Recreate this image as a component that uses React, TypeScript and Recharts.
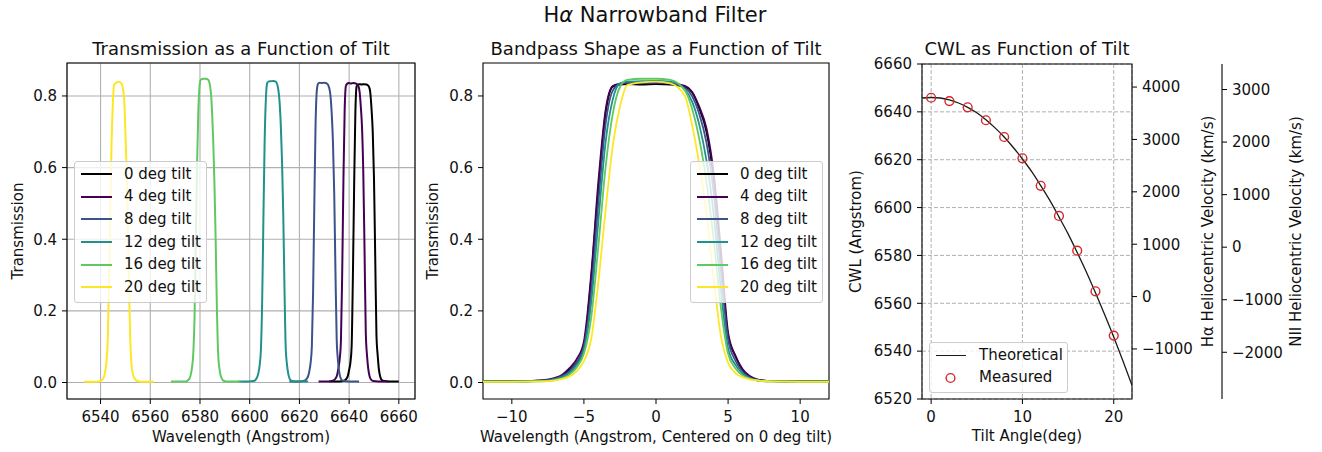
import React from 'react';
import {
  LineChart, ComposedChart, Line, XAxis, YAxis, CartesianGrid, ReferenceArea,
} from 'recharts';

const FONT = '"DejaVu Sans", Verdana, sans-serif';
const INK = '#111111';
const GRID = '#b0b0b0';
const RED = '#d62728';

// tilts shown in the legends, plotted in this order
const TILTS = [0, 4, 8, 12, 16, 20];
const TILT_COLORS = ['#000000', '#440154', '#3b528b', '#21918c', '#5ec962', '#fde725'];

// centre wavelength of each curve in the left panel (Angstrom)
const PANEL1_CENTERS = [6646.0, 6641.7, 6630.0, 6609.5, 6582.3, 6547.4];

// offsets from each curve's centre (Angstrom)
const OFFSETS = [-14, -12, -10, -8, -7, -6.5, -6, -5.5, -5, -4.5, -4, -3.5, -3, -2.5, -2, -1, 0,
  1, 2, 2.5, 3, 3.5, 4, 4.5, 5, 5.5, 6, 6.5, 7, 8, 10, 12, 14];

// transmission at each offset, per tilt
const T_0 = [0.003, 0.003, 0.003, 0.005, 0.011, 0.019, 0.035, 0.055, 0.1, 0.29, 0.54, 0.75, 0.826, 0.832, 0.833, 0.832, 0.833,
  0.832, 0.826, 0.81, 0.765, 0.7, 0.57, 0.35, 0.13, 0.075, 0.035, 0.017, 0.008, 0.004, 0.003, 0.003, 0.003];
const T_4 = [0.003, 0.003, 0.003, 0.006, 0.013, 0.022, 0.04, 0.065, 0.115, 0.3, 0.56, 0.76, 0.828, 0.834, 0.836, 0.835, 0.836,
  0.835, 0.828, 0.812, 0.77, 0.71, 0.585, 0.37, 0.14, 0.075, 0.038, 0.018, 0.009, 0.004, 0.003, 0.003, 0.003];
const T_8 = [0.003, 0.003, 0.003, 0.005, 0.011, 0.018, 0.032, 0.055, 0.1, 0.25, 0.5, 0.72, 0.815, 0.834, 0.837, 0.836, 0.837,
  0.835, 0.822, 0.8, 0.75, 0.67, 0.53, 0.31, 0.12, 0.062, 0.03, 0.014, 0.007, 0.004, 0.003, 0.003, 0.003];
const T_12 = [0.003, 0.003, 0.003, 0.004, 0.009, 0.015, 0.027, 0.048, 0.09, 0.22, 0.45, 0.67, 0.79, 0.835, 0.84, 0.841, 0.842,
  0.84, 0.818, 0.785, 0.72, 0.62, 0.47, 0.26, 0.095, 0.05, 0.025, 0.012, 0.006, 0.003, 0.003, 0.003, 0.003];
const T_16 = [0.003, 0.003, 0.003, 0.003, 0.007, 0.012, 0.022, 0.042, 0.08, 0.18, 0.38, 0.6, 0.75, 0.825, 0.845, 0.848, 0.848,
  0.845, 0.815, 0.765, 0.68, 0.56, 0.4, 0.21, 0.08, 0.04, 0.02, 0.011, 0.006, 0.003, 0.003, 0.003, 0.003];
const T_20 = [0.002, 0.002, 0.002, 0.003, 0.006, 0.01, 0.017, 0.032, 0.06, 0.12, 0.28, 0.48, 0.66, 0.77, 0.83, 0.838, 0.84,
  0.835, 0.8, 0.72, 0.61, 0.47, 0.29, 0.13, 0.055, 0.027, 0.015, 0.009, 0.006, 0.003, 0.002, 0.002, 0.002];
const SHAPES = [T_0, T_4, T_8, T_12, T_16, T_20];

// right panel
const MEASURED_TILT = [0, 2, 4, 6, 8, 10, 12, 14, 16, 18, 20];
const MEASURED_CWL = [6645.9, 6644.5, 6641.9, 6636.5, 6629.5, 6620.6, 6609.1, 6596.5, 6582.0, 6565.0, 6546.5];
const THEORY_TILT = [-1, 0, 1, 2, 3, 4, 5, 6, 7, 8, 9, 10, 11, 12, 13, 14, 15, 16, 17, 18, 19, 20, 21, 22];
const THEORY_CWL = [6645.8, 6646.0, 6645.8, 6645.0, 6643.7, 6641.9, 6639.6, 6636.7, 6633.3, 6629.5, 6625.1, 6620.3,
  6615.1, 6609.2, 6603.0, 6596.1, 6589.0, 6581.2, 6573.1, 6564.4, 6555.3, 6545.9, 6536.0, 6525.7];

// axes
const P1_X_DOMAIN = [6526.5, 6666.5];
const P1_X_TICKS = [6540, 6560, 6580, 6600, 6620, 6640, 6660];
const T_DOMAIN = [-0.046, 0.892];
const T_TICKS = [0, 0.2, 0.4, 0.6, 0.8];
const P2_X_DOMAIN = [-12, 12];
const P2_X_TICKS = [-10, -5, 0, 5, 10];
const P3_X_DOMAIN = [-1, 22];
const P3_X_TICKS = [0, 10, 20];
const CWL_DOMAIN = [6520, 6660];
const CWL_TICKS = [6520, 6540, 6560, 6580, 6600, 6620, 6640, 6660];
const HA_TICKS = [-1000, 0, 1000, 2000, 3000, 4000];
const NII_TICKS = [-2000, -1000, 0, 1000, 2000, 3000];

const C_KMS = 299792.458;
const HA_REST = 6562.8;
const NII_REST = 6583.45;
const HA_DOMAIN = CWL_DOMAIN.map((l) => (l / HA_REST - 1) * C_KMS);
const NII_DOMAIN = CWL_DOMAIN.map((l) => (l / NII_REST - 1) * C_KMS);

const panel1Series = TILTS.map((_, i) =>
  OFFSETS.map((o, j) => ({ x: PANEL1_CENTERS[i] + o, y: SHAPES[i][j] })));
const panel2Series = TILTS.map((_, i) => OFFSETS.map((o, j) => ({ x: o, y: SHAPES[i][j] })));
const theoryData = THEORY_TILT.map((t, i) => ({ x: t, y: THEORY_CWL[i] }));
const measuredData = MEASURED_TILT.map((t, i) => ({ x: t, y: MEASURED_CWL[i] }));

const minus = (v: number | string) => String(v).replace('-', '\u2212');
const tickStyle = { fontSize: 15, fill: INK, fontFamily: FONT };

// axis titles at fixed chart coordinates
const hLabel = (text: string, x: number, y: number) => ({
  content: () => (
    <text x={x} y={y} textAnchor="middle" fontSize={15} fill={INK} fontFamily={FONT}>{text}</text>
  ),
});
const vLabel = (text: string, x: number, y: number) => ({
  content: () => (
    <text x={x} y={y} transform={`rotate(-90 ${x} ${y})`} textAnchor="middle" fontSize={15} fill={INK} fontFamily={FONT}>
      {text}
    </text>
  ),
});

const LegendBox: React.FC<{ left: number; top: number; width: number; children: React.ReactNode }> = ({ left, top, width, children }) => (
  <div style={{
    position: 'absolute', left, top, width, boxSizing: 'border-box', padding: '1px 0 3px 0',
    background: 'rgba(255,255,255,0.8)', border: '1px solid #cccccc', borderRadius: 3,
    fontSize: 15, color: INK, fontFamily: FONT,
  }}>{children}</div>
);

const TiltLegend: React.FC<{ left: number; top: number }> = ({ left, top }) => (
  <LegendBox left={left} top={top} width={133}>
    {TILTS.map((t, i) => (
      <div key={t} style={{ height: 22.6, display: 'flex', alignItems: 'center' }}>
        <div style={{ marginLeft: 6, width: 31, height: 2, background: TILT_COLORS[i] }} />
        <span style={{ marginLeft: 12, lineHeight: '15px' }}>{`${t} deg tilt`}</span>
      </div>
    ))}
  </LegendBox>
);

export default function App() {
  return (
    <div style={{ position: 'absolute', left: 0, top: 0, width: 1322, height: 452, background: '#fff', fontFamily: FONT }}>
      {/* left: transmission vs wavelength */}
      <div style={{ position: 'absolute', left: 0, top: 0 }}>
        <LineChart width={440} height={452} margin={{ top: 63, right: 25, bottom: 0, left: 0 }}>
          <CartesianGrid stroke={GRID} strokeWidth={1.1} />
          <XAxis dataKey="x" type="number" domain={P1_X_DOMAIN} ticks={P1_X_TICKS} interval={0} allowDataOverflow
            height={53} axisLine={false} tickLine={{ stroke: '#000' }} tickSize={5} tickMargin={7} tick={tickStyle}
            label={hLabel('Wavelength (Angstrom)', 241, 442)} />
          <YAxis type="number" domain={T_DOMAIN} ticks={T_TICKS} interval={0} allowDataOverflow width={67}
            axisLine={false} tickLine={{ stroke: '#000' }} tickSize={5} tickMargin={5} tick={tickStyle}
            tickFormatter={(v: number) => v.toFixed(1)} label={vLabel('Transmission', 23, 231)} />
          {TILTS.map((t, i) => (
            <Line key={t} data={panel1Series[i]} dataKey="y" type="monotone" stroke={TILT_COLORS[i]}
              strokeWidth={2} dot={false} isAnimationActive={false} />
          ))}
          <ReferenceArea x1={P1_X_DOMAIN[0]} x2={P1_X_DOMAIN[1]} y1={T_DOMAIN[0]} y2={T_DOMAIN[1]}
            fill="none" stroke="#000" strokeWidth={1.1} ifOverflow="visible" />
        </LineChart>
      </div>

      {/* middle: centred bandpass shapes */}
      <div style={{ position: 'absolute', left: 400, top: 0 }}>
        <LineChart width={460} height={452} margin={{ top: 63, right: 31, bottom: 0, left: 0 }}>
          <XAxis dataKey="x" type="number" domain={P2_X_DOMAIN} ticks={P2_X_TICKS} interval={0} allowDataOverflow
            height={53} axisLine={false} tickLine={{ stroke: '#000' }} tickSize={5} tickMargin={7} tick={tickStyle}
            tickFormatter={minus} label={hLabel('Wavelength (Angstrom, Centered on 0 deg tilt)', 256, 442)} />
          <YAxis type="number" domain={T_DOMAIN} ticks={T_TICKS} interval={0} allowDataOverflow width={83}
            axisLine={false} tickLine={{ stroke: '#000' }} tickSize={5} tickMargin={5} tick={tickStyle}
            tickFormatter={(v: number) => v.toFixed(1)} label={vLabel('Transmission', 38, 231)} />
          {TILTS.map((t, i) => (
            <Line key={t} data={panel2Series[i]} dataKey="y" type="monotone" stroke={TILT_COLORS[i]}
              strokeWidth={1.8} dot={false} isAnimationActive={false} />
          ))}
          <ReferenceArea x1={P2_X_DOMAIN[0]} x2={P2_X_DOMAIN[1]} y1={T_DOMAIN[0]} y2={T_DOMAIN[1]}
            fill="none" stroke="#000" strokeWidth={1.1} ifOverflow="visible" />
        </LineChart>
      </div>

      {/* right: CWL vs tilt with velocity axes */}
      <div style={{ position: 'absolute', left: 840, top: 0 }}>
        <ComposedChart width={482} height={452} margin={{ top: 64, right: 0, bottom: 0, left: 0 }}>
          <CartesianGrid yAxisId="cwl" stroke={GRID} strokeWidth={1} strokeDasharray="4 2" />
          <XAxis dataKey="x" type="number" domain={P3_X_DOMAIN} ticks={P3_X_TICKS} interval={0} allowDataOverflow
            height={53} axisLine={false} tickLine={{ stroke: '#000' }} tickSize={5} tickMargin={7} tick={tickStyle}
            label={hLabel('Tilt Angle(deg)', 187, 441)} />
          <YAxis yAxisId="cwl" type="number" domain={CWL_DOMAIN} ticks={CWL_TICKS} interval={0} allowDataOverflow width={82}
            axisLine={false} tickLine={{ stroke: '#000' }} tickSize={5} tickMargin={5} tick={tickStyle}
            label={vLabel('CWL (Angstrom)', 21, 231.5)} />
          <YAxis yAxisId="ha" orientation="right" type="number" domain={HA_DOMAIN} ticks={HA_TICKS} interval={0}
            allowDataOverflow width={90} axisLine={false} tickLine={{ stroke: '#000' }} tickSize={5} tickMargin={5}
            tick={tickStyle} tickFormatter={minus}
            label={vLabel('H\u03b1 Heliocentric Velocity (km/s)', 372.5, 231.5)} />
          <YAxis yAxisId="nii" orientation="right" type="number" domain={NII_DOMAIN} ticks={NII_TICKS} interval={0}
            allowDataOverflow width={100} axisLine={{ stroke: '#000', strokeWidth: 1.1 }} tickLine={{ stroke: '#000' }}
            tickSize={5} tickMargin={5} tick={tickStyle} tickFormatter={minus}
            label={vLabel('NII Heliocentric Velocity (km/s)', 461, 231.5)} />
          <Line yAxisId="cwl" data={theoryData} dataKey="y" type="monotone" stroke="#1a1a1a" strokeWidth={1.3}
            dot={false} isAnimationActive={false} />
          <Line yAxisId="cwl" data={measuredData} dataKey="y" stroke="none"
            dot={{ r: 4.4, fill: 'none', stroke: RED, strokeWidth: 1.4 }} isAnimationActive={false} />
          <ReferenceArea yAxisId="cwl" x1={P3_X_DOMAIN[0]} x2={P3_X_DOMAIN[1]} y1={CWL_DOMAIN[0]} y2={CWL_DOMAIN[1]}
            fill="none" stroke="#000" strokeWidth={1.1} ifOverflow="visible" />
        </ComposedChart>
      </div>

      {/* titles */}
      <svg width={1322} height={452} style={{ position: 'absolute', left: 0, top: 0, pointerEvents: 'none' }}>
        <text x={655} y={21.5} textAnchor="middle" fontSize={21} fill={INK} fontFamily={FONT}>
          H<tspan fontStyle="italic">{'\u03b1'}</tspan> Narrowband Filter
        </text>
        <text x={241} y={54.5} textAnchor="middle" fontSize={18} fill={INK} fontFamily={FONT}>Transmission as a Function of Tilt</text>
        <text x={656} y={54.5} textAnchor="middle" fontSize={18} fill={INK} fontFamily={FONT}>Bandpass Shape as a Function of Tilt</text>
        <text x={1027} y={54.5} textAnchor="middle" fontSize={18} fill={INK} fontFamily={FONT}>CWL as Function of Tilt</text>
      </svg>

      {/* legends */}
      <TiltLegend left={74} top={161} />
      <TiltLegend left={690} top={161} />
      <LegendBox left={929} top={342} width={139}>
        <div style={{ height: 22.6, display: 'flex', alignItems: 'center' }}>
          <div style={{ marginLeft: 6, width: 30, height: 1.3, background: '#1a1a1a' }} />
          <span style={{ marginLeft: 13, lineHeight: '15px' }}>Theoretical</span>
        </div>
        <div style={{ height: 22.6, display: 'flex', alignItems: 'center' }}>
          <svg width={49} height={12} style={{ display: 'block' }}>
            <circle cx={20.5} cy={6} r={4.4} fill="none" stroke={RED} strokeWidth={1.4} />
          </svg>
          <span style={{ lineHeight: '15px' }}>Measured</span>
        </div>
      </LegendBox>
    </div>
  );
}
